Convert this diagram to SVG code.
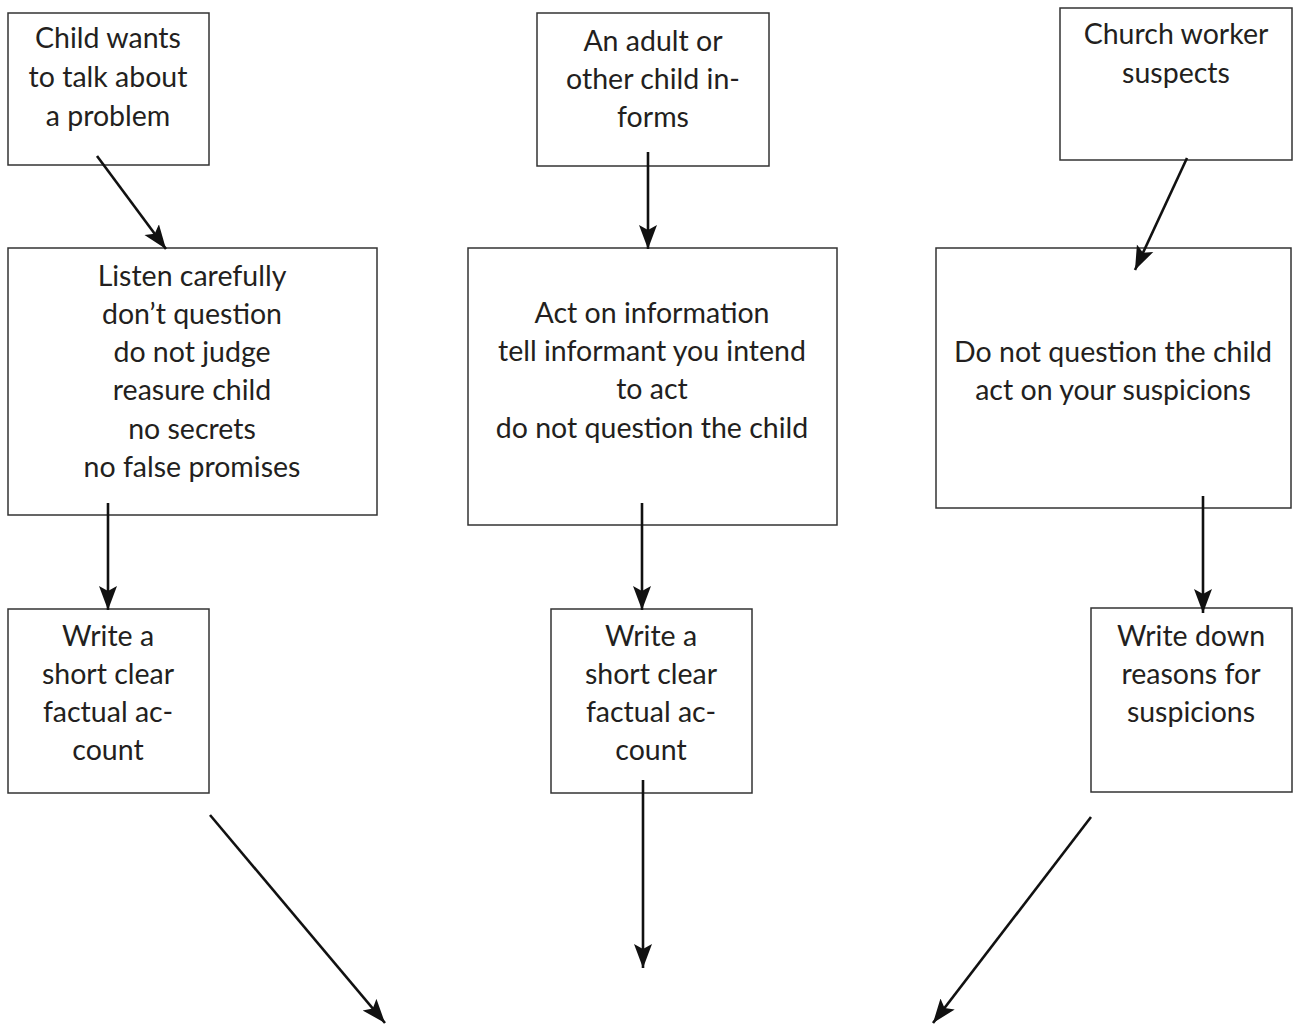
<svg xmlns="http://www.w3.org/2000/svg" width="1293" height="1025" viewBox="0 0 1293 1025">
<style>
.box{fill:#fff;stroke:#333;stroke-width:1.5}
.t{font-family:Lato,"Open Sans","Liberation Sans",sans-serif;font-size:28.5px;fill:#231f20;text-anchor:middle}
.c{stroke:#111;stroke-width:2.6;fill:none;marker-end:url(#ah)}
</style>
<defs>
<marker id="ah" markerUnits="userSpaceOnUse" markerWidth="26" markerHeight="20" refX="24" refY="10" orient="auto">
<path d="M0,1 L24,10 L0,19 L5,10 Z" fill="#111"/>
</marker>
</defs>
<rect width="1293" height="1025" fill="#fff"/>
<g id="n1"><rect class="box" x="8" y="13" width="201" height="152"/>
<text class="t"><tspan x="108" y="48">Child wants</tspan><tspan x="108" y="87">to talk about</tspan><tspan x="108" y="126">a problem</tspan></text></g>
<g id="n2"><rect class="box" x="8" y="248" width="369" height="267"/>
<text class="t"><tspan x="192" y="286">Listen carefully</tspan><tspan x="192" y="324">don’t question</tspan><tspan x="192" y="362">do not judge</tspan><tspan x="192" y="400">reasure child</tspan><tspan x="192" y="439">no secrets</tspan><tspan x="192" y="477">no false promises</tspan></text></g>
<g id="n3"><rect class="box" x="8" y="609" width="201" height="184"/>
<text class="t"><tspan x="108" y="646">Write a</tspan><tspan x="108" y="684">short clear</tspan><tspan x="108" y="722">factual ac-</tspan><tspan x="108" y="760">count</tspan></text></g>
<g id="n4"><rect class="box" x="537" y="13" width="232" height="153"/>
<text class="t"><tspan x="653" y="51">An adult or</tspan><tspan x="653" y="89">other child in-</tspan><tspan x="653" y="127">forms</tspan></text></g>
<g id="n5"><rect class="box" x="468" y="248" width="369" height="277"/>
<text class="t"><tspan x="652" y="323">Act on information</tspan><tspan x="652" y="361">tell informant you intend</tspan><tspan x="652" y="399">to act</tspan><tspan x="652" y="438">do not question the child</tspan></text></g>
<g id="n6"><rect class="box" x="551" y="609" width="201" height="184"/>
<text class="t"><tspan x="651" y="646">Write a</tspan><tspan x="651" y="684">short clear</tspan><tspan x="651" y="722">factual ac-</tspan><tspan x="651" y="760">count</tspan></text></g>
<g id="n7"><rect class="box" x="1060" y="8" width="232" height="152"/>
<text class="t"><tspan x="1176" y="44">Church worker</tspan><tspan x="1176" y="83">suspects</tspan></text></g>
<g id="n8"><rect class="box" x="936" y="248" width="355" height="260"/>
<text class="t"><tspan x="1113" y="362">Do not question the child</tspan><tspan x="1113" y="400">act on your suspicions</tspan></text></g>
<g id="n9"><rect class="box" x="1091" y="608" width="201" height="184"/>
<text class="t"><tspan x="1191" y="646">Write down</tspan><tspan x="1191" y="684">reasons for</tspan><tspan x="1191" y="722">suspicions</tspan></text></g>
<g id="connectors">
<line class="c" x1="97" y1="156" x2="166" y2="249"/>
<line class="c" x1="108" y1="503" x2="108" y2="610"/>
<line class="c" x1="648" y1="152" x2="648" y2="249"/>
<line class="c" x1="642" y1="503" x2="642" y2="610"/>
<line class="c" x1="1187" y1="158" x2="1135" y2="270"/>
<line class="c" x1="1203" y1="496" x2="1203" y2="613"/>
<line class="c" x1="210" y1="815" x2="385" y2="1023"/>
<line class="c" x1="643" y1="780" x2="643" y2="968"/>
<line class="c" x1="1091" y1="817" x2="933" y2="1023"/>
</g>
</svg>
